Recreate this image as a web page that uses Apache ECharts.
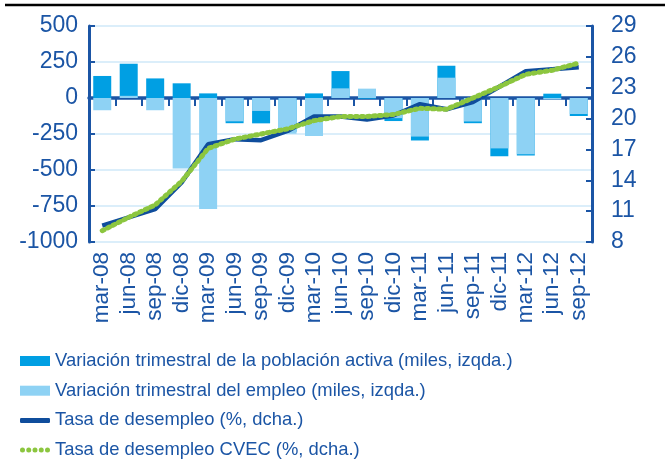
<!DOCTYPE html>
<html>
<head>
<meta charset="utf-8">
<script src="https://cdn.jsdelivr.net/npm/echarts@6/dist/echarts.min.js"></script>
<style>
html,body{margin:0;padding:0;background:#fff;}
#c{width:670px;height:464px;}
</style>
</head>
<body>
<div id="c"></div>
<script>
const categories = ['mar-08','jun-08','sep-08','dic-08','mar-09','jun-09','sep-09','dic-09','mar-10','jun-10','sep-10','dic-10','mar-11','jun-11','sep-11','dic-11','mar-12','jun-12','sep-12'];
const poblacionActiva = [153, 238, 136, 102, 32, -175, -176, -235, 32, 187, -5, -160, -295, 224, -175, -405, -400, 30, -125];
const empleo = [-85, 15, -85, -489, -771, -162, -90, -248, -264, 67, 65, -140, -268, 141, -163, -350, -390, -10, -111];
const tasaDesempleo = [9.6, 10.4, 11.2, 13.8, 17.5, 18.0, 17.9, 18.8, 20.2, 20.2, 19.9, 20.3, 21.4, 20.9, 21.6, 23.1, 24.6, 24.8, 25.0];
const tasaCVEC = [9.1, 10.4, 11.6, 13.9, 17.1, 18.0, 18.5, 19.0, 19.8, 20.2, 20.2, 20.4, 21.0, 20.9, 22.0, 23.1, 24.3, 24.7, 25.4];
const leftTicks = {min: -1000, max: 500, interval: 250};
const rightTicks = {min: 8, max: 29, interval: 3};
const seriesNames = ['Variación trimestral de la población activa (miles, izqda.)','Variación trimestral del empleo (miles, izqda.)','Tasa de desempleo (%, dcha.)','Tasa de desempleo CVEC (%, dcha.)'];

const NAVY = '#1b55a5';
const FONT = "'Liberation Sans', Arial, sans-serif";
const BEADS = 'path://M0,2.5a2.5,2.5 0 1,0 5,0a2.5,2.5 0 1,0 -5,0M6.25,2.5a2.5,2.5 0 1,0 5,0a2.5,2.5 0 1,0 -5,0M12.5,2.5a2.5,2.5 0 1,0 5,0a2.5,2.5 0 1,0 -5,0M18.75,2.5a2.5,2.5 0 1,0 5,0a2.5,2.5 0 1,0 -5,0M25,2.5a2.5,2.5 0 1,0 5,0a2.5,2.5 0 1,0 -5,0';
const legendText = {color: NAVY, fontSize: 18.4, fontFamily: FONT, lineHeight: 20};
const chart = echarts.init(document.getElementById('c'), null, {renderer: 'canvas'});
chart.setOption({
  animation: false,
  textStyle: {fontFamily: FONT},
  graphic: [{type: 'line', shape: {x1: 5, y1: 5, x2: 665, y2: 5}, style: {stroke: '#000', lineWidth: 2.5}}],
  grid: {left: 89, right: 78, top: 26, bottom: 222, containLabel: false},
  legend: [
    {orient: 'vertical', left: 20, top: 351, padding: 0, itemGap: 9.7, itemWidth: 30, itemHeight: 10,
     textStyle: legendText,
     data: [{name: seriesNames[0], icon: 'rect'}, {name: seriesNames[1], icon: 'rect'}]},
    {orient: 'vertical', left: 20, top: 410.4, padding: 0, itemGap: 9.7, itemWidth: 30, itemHeight: 5,
     textStyle: legendText,
     data: [{name: seriesNames[2], icon: 'roundRect'}, {name: seriesNames[3], icon: BEADS}]}
  ],
  xAxis: [
    {type: 'category', data: categories, position: 'bottom', boundaryGap: true,
     axisLine: {show: false}, axisTick: {show: false},
     axisLabel: {rotate: 90, interval: 0, margin: 10, color: NAVY, fontSize: 22.5, fontFamily: FONT}},
    {type: 'category', data: categories, position: 'bottom', boundaryGap: true,
     axisLine: {show: true, onZero: true, onZeroAxisIndex: 0, lineStyle: {color: NAVY, width: 3.5}},
     axisTick: {show: true, inside: false, length: 8, interval: 0, lineStyle: {color: NAVY, width: 2}},
     axisLabel: {show: false}, splitLine: {show: false}}
  ],
  yAxis: [
    {type: 'value', min: leftTicks.min, max: leftTicks.max, interval: leftTicks.interval, position: 'left',
     axisLine: {show: true, lineStyle: {color: NAVY, width: 3}},
     axisTick: {show: true, inside: true, length: 6, lineStyle: {color: NAVY, width: 2}},
     axisLabel: {color: NAVY, fontSize: 23, margin: 11, fontFamily: FONT, formatter: v => String(v)},
     splitLine: {show: true, lineStyle: {color: '#cfe9f8', width: 1.5}}},
    {type: 'value', min: rightTicks.min, max: rightTicks.max, interval: rightTicks.interval, position: 'right',
     axisLine: {show: true, lineStyle: {color: NAVY, width: 3}},
     axisTick: {show: true, inside: true, length: 6, lineStyle: {color: NAVY, width: 2}},
     axisLabel: {color: NAVY, fontSize: 23, margin: 19, fontFamily: FONT},
     splitLine: {show: false}}
  ],
  series: [
    {name: seriesNames[0], type: 'bar', xAxisIndex: 0, yAxisIndex: 0, data: poblacionActiva,
     barWidth: 18, barGap: '-100%', itemStyle: {color: '#009fe3'}, z: 2},
    {name: seriesNames[1], type: 'bar', xAxisIndex: 0, yAxisIndex: 0, data: empleo,
     barWidth: 18, barGap: '-100%', itemStyle: {color: '#8ed2f4'}, z: 3},
    {name: seriesNames[2], type: 'line', xAxisIndex: 0, yAxisIndex: 1, data: tasaDesempleo,
     symbol: 'none', lineStyle: {color: '#0f4d9c', width: 4.5}, itemStyle: {color: '#0f4d9c'}, z: 5},
    {name: seriesNames[3], type: 'line', xAxisIndex: 0, yAxisIndex: 1, data: tasaCVEC,
     symbol: 'none', lineStyle: {color: '#8cc63f', width: 5, type: [2, 4], cap: 'round'}, itemStyle: {color: '#8cc63f'}, z: 6}
  ]
});
</script>
</body>
</html>
